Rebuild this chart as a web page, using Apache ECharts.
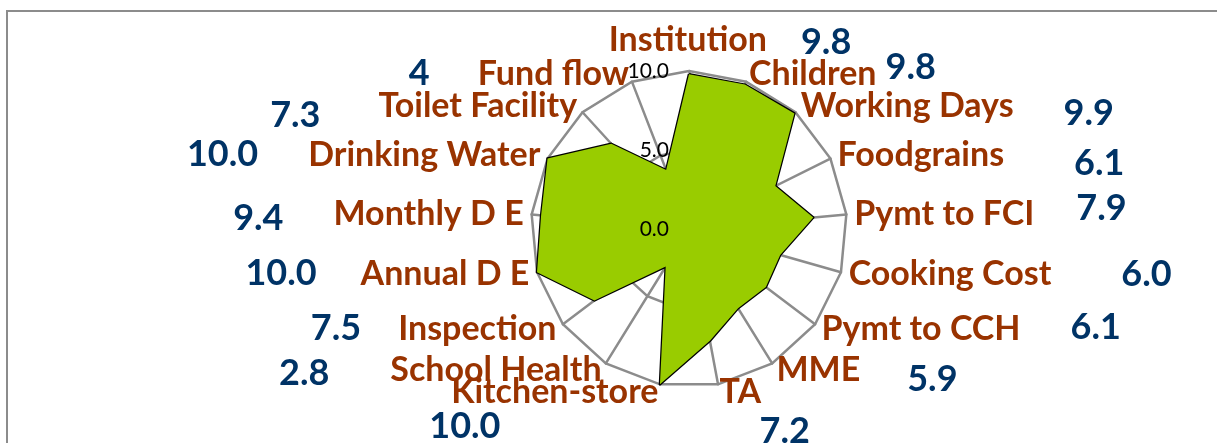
<!DOCTYPE html>
<html>
<head>
<meta charset="utf-8">
<script src="https://cdn.jsdelivr.net/npm/echarts@6/dist/echarts.min.js"></script>
<style>
html, body { margin: 0; padding: 0; background: #fff; }
#chart { width: 1217px; height: 443px; }
</style>
</head>
<body>
<div id="chart"></div>
<script>
var categories = ['Institution', 'Children', 'Working Days', 'Foodgrains', 'Pymt to FCI', 'Cooking Cost', 'Pymt to CCH', 'MME', 'TA', 'Kitchen-store', 'School Health', 'Inspection', 'Annual D E', 'Monthly D E', 'Drinking Water', 'Toilet Facility', 'Fund flow'];
var scores = [9.8, 9.8, 9.9, 6.1, 7.9, 6.0, 6.1, 5.9, 7.2, 10.0, 2.8, 7.5, 10.0, 9.4, 10.0, 7.3, 4];
var scoreLabels = ['9.8', '9.8', '9.9', '6.1', '7.9', '6.0', '6.1', '5.9', '7.2', '10.0', '2.8', '7.5', '10.0', '9.4', '10.0', '7.3', '4'];
var axisMax = 10;
var tickStep = 5;

// where each score sits beside its name: side, gap, vertical shift (+ = down)
var scoreSpots = [
    ['after', 34, -5], ['after', 9, -7], ['after', 50, 7], ['after', 70, 8],
    ['after', 42, -5], ['after', 70, 0], ['after', 50, -2], ['after', 47, 9],
    ['below-l', 40, 7], ['below-r', 158, 2],
    ['before', 61, 3], ['before', 37, -1], ['before', 44, -1], ['before', 50, 5],
    ['before', 50, -1], ['before', 58, 9], ['before', 48, -1]
];

var nameStyle = { color: '#993300', fontFamily: 'Lato', fontWeight: 'bold', fontSize: 34, lineHeight: 32, verticalAlign: 'middle' };
var rich = {
    n: nameStyle,
    // top name: room for its score on the right and lifted a little
    nc: echarts.util.extend({ padding: [0, 0, 14, 82] }, nameStyle)
};
scoreSpots.forEach(function (s, i) {
    var up = s[2] < 0 ? -2 * s[2] : 0;
    var down = s[2] > 0 ? 2 * s[2] : 0;
    var st = { color: '#003366', fontFamily: 'Lato', fontWeight: 'bold', fontSize: 36, lineHeight: 32, verticalAlign: 'middle' };
    if (s[0] === 'after') st.padding = [down, 0, up, s[1]];
    else if (s[0] === 'before') st.padding = [down, s[1], up, 0];
    else {
        // value on its own line under the name
        st.lineHeight = 32 + 2 * s[2];
        st.padding = s[0] === 'below-l' ? [0, 0, 0, s[1]] : [0, s[1], 0, 0];
        rich['b' + i] = { fontSize: 10, lineHeight: st.lineHeight };
    }
    rich['v' + i] = st;
});

function nameFormatter(name) {
    var i = categories.indexOf(name);
    var s = scoreSpots[i];
    var v = '{v' + i + '|' + scoreLabels[i] + '}';
    if (s[0] === 'after') return (i === 0 ? '{nc|' : '{n|') + name + '}' + v;
    if (s[0] === 'before') return v + '{n|' + name + '}';
    return '{b' + i + '| }\n{n|' + name + '}\n' + v;
}

// echarts lays indicators out counter-clockwise, the picture runs clockwise
var order = [0];
for (var k = categories.length - 1; k > 0; k--) order.push(k);

var indicators = order.map(function (i) {
    return { name: categories[i], min: 0, max: axisMax };
});

var center = [689, 229];
var radius = 158;

var myChart = echarts.init(document.getElementById('chart'));
var option = {
    animation: false,
    graphic: [{
        type: 'rect',
        shape: { x: 7, y: 11, width: 1240, height: 500 },
        style: { fill: null, stroke: '#8c8c8c', lineWidth: 2 },
        silent: true
    }],
    // polar only carries the 0.0 / 5.0 / 10.0 scale along the top spoke
    polar: { center: center, radius: radius },
    angleAxis: { show: false, startAngle: 90, min: 0, max: 360 },
    radiusAxis: {
        min: 0, max: axisMax, interval: tickStep, z: 5,
        axisLine: { show: false },
        axisTick: { show: false },
        splitLine: { show: false },
        axisLabel: {
            color: '#000', fontFamily: 'Lato', fontSize: 21, margin: 20,
            showMinLabel: true, showMaxLabel: true,
            formatter: function (v) { return v.toFixed(1); }
        }
    },
    radar: {
        center: center,
        radius: radius,
        shape: 'polygon',
        splitNumber: 2,
        nameGap: 8,
        indicator: indicators,
        axisName: { formatter: nameFormatter, rich: rich },
        axisLine: { lineStyle: { color: '#8c8c8c', width: 2.5 } },
        splitLine: { lineStyle: { color: '#8c8c8c', width: 2.5 } },
        splitArea: { show: false }
    },
    series: [{
        type: 'radar',
        symbol: 'none',
        lineStyle: { color: '#000', width: 2.5 },
        areaStyle: { color: '#99cc00', opacity: 1 },
        data: [{ value: order.map(function (i) { return scores[i]; }) }]
    }]
};
myChart.setOption(option);
</script>
</body>
</html>
